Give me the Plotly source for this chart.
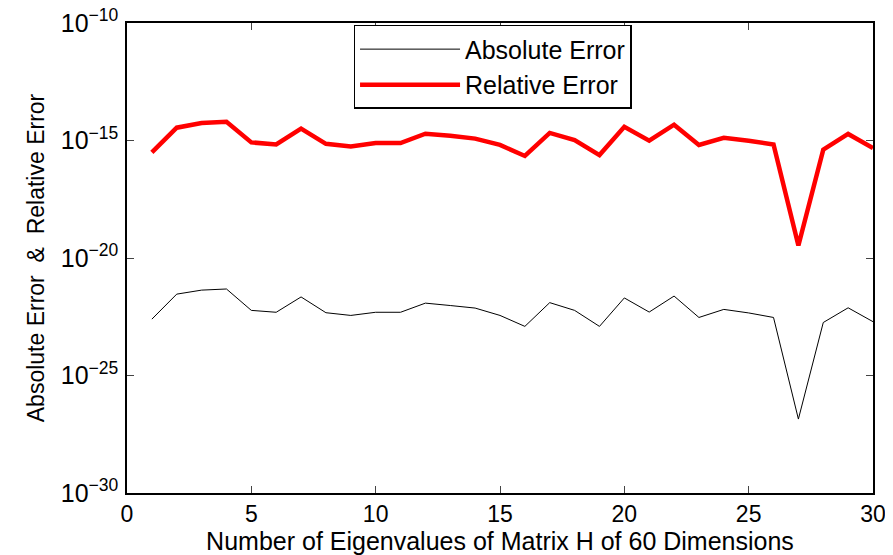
import plotly.graph_objects as go

eigen_index = list(range(1, 31))

absolute_error = [
    2.5e-23, 2.9e-22, 4.3e-22, 4.8e-22, 5.9e-23, 4.9e-23, 2.2e-22, 4.7e-23, 3.6e-23, 4.9e-23,
    4.9e-23, 1.2e-22, 9.5e-23, 7.4e-23, 3.6e-23, 1.23e-23, 1.26e-22, 5.9e-23, 1.23e-23, 2.0e-22,
    5.0e-23, 2.4e-22, 2.95e-23, 6.5e-23, 4.6e-23, 2.95e-23, 1.4e-27, 1.8e-23, 7.6e-23, 1.95e-23,
]

relative_error = [
    3.1e-16, 3.5e-15, 5.5e-15, 6.3e-15, 8.3e-16, 6.8e-16, 3.2e-15, 7.2e-16, 5.6e-16, 7.8e-16,
    7.8e-16, 1.95e-15, 1.6e-15, 1.2e-15, 6.5e-16, 2.2e-16, 2.1e-15, 1.05e-15, 2.4e-16, 3.8e-15,
    9.8e-16, 4.7e-15, 6.5e-16, 1.3e-15, 9.8e-16, 6.8e-16, 3.4e-20, 4.1e-16, 1.9e-15, 4.8e-16,
]

x_ticks = [0, 5, 10, 15, 20, 25, 30]
y_ticks = [1e-30, 1e-25, 1e-20, 1e-15, 1e-10]
y_tick_text = ["10<sup>\u221230</sup>", "10<sup>\u221225</sup>", "10<sup>\u221220</sup>",
               "10<sup>\u221215</sup>", "10<sup>\u221210</sup>"]

font_main = "Liberation Sans, Arial, sans-serif"

fig = go.Figure()
fig.add_trace(go.Scatter(x=eigen_index, y=absolute_error, mode="lines", name="Absolute Error",
                         line=dict(color="black", width=1)))
fig.add_trace(go.Scatter(x=eigen_index, y=relative_error, mode="lines", name="Relative Error",
                         line=dict(color="#ff0000", width=4.5)))

# the page body has an 8px margin, so the figure is 8px smaller on each axis
fig.update_layout(
    width=885, height=547,
    margin=dict(l=119, r=20, t=15, b=62),
    paper_bgcolor="white", plot_bgcolor="white",
    font=dict(family=font_main, size=24, color="black"),
    showlegend=True,
    legend=dict(x=0.49, xanchor="center", y=0.996, yanchor="top",
                bgcolor="white", bordercolor="black", borderwidth=1.5,
                itemwidth=100, tracegroupgap=0,
                font=dict(size=25, family=font_main)),
)
fig.update_xaxes(
    range=[0, 30], tickvals=x_ticks, ticks="inside", ticklen=7, tickwidth=1,
    showline=True, linecolor="black", linewidth=1.5, mirror="allticks",
    showgrid=False, zeroline=False, automargin=False,
    tickfont=dict(size=23),
    title=dict(text="Number of Eigenvalues of Matrix H of 60 Dimensions",
               font=dict(size=25), standoff=3),
)
fig.update_yaxes(
    type="log", range=[-30, -10], tickvals=y_ticks, ticktext=y_tick_text,
    ticks="inside", ticklen=7, tickwidth=1, ticklabelstandoff=2,
    ticklabeloverflow="allow",
    showline=True, linecolor="black", linewidth=1.5, mirror="allticks",
    showgrid=False, zeroline=False, automargin=False,
    tickfont=dict(size=25),
    title=dict(text="Absolute Error  &  Relative Error",
               font=dict(size=23, family=font_main),
               standoff=10),
)

fig.write_html("out.html")
